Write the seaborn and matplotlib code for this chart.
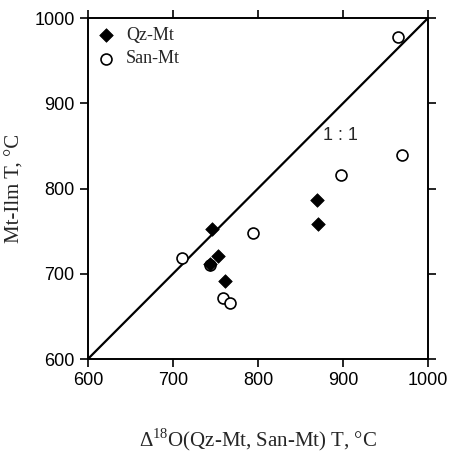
"""Mt-Ilm T contra Delta18O T (Qz-Mt, San-Mt)."""

import matplotlib
matplotlib.use("Agg")
import matplotlib.pyplot as plt
import pandas as pd
import seaborn as sns

# datos
qz_x = [746, 753, 744, 761, 869, 871]
qz_y = [753, 721, 711, 691, 786, 758]
san_x = [711, 744, 794, 759, 767, 898, 969, 965]
san_y = [719, 710, 748, 671, 666, 816, 839, 978]
linea_1a1 = [600, 1000]
ticks = [600, 700, 800, 900, 1000]

qz = pd.DataFrame({"x": qz_x, "y": qz_y})
san = pd.DataFrame({"x": san_x, "y": san_y})

sns.set_style("ticks")
plt.rcParams["font.family"] = ["Liberation Sans", "DejaVu Sans"]
plt.rcParams["mathtext.fontset"] = "custom"
plt.rcParams["mathtext.rm"] = "Liberation Serif"

fig = plt.figure(figsize=(4.53, 4.57), dpi=100)
ax = fig.add_axes([0.194, 0.2144, 0.751, 0.7462])

sns.lineplot(x=linea_1a1, y=linea_1a1, ax=ax, color="black", lw=1.6, zorder=1)
sns.scatterplot(data=san, x="x", y="y", ax=ax, marker="o", s=62,
                facecolor="white", edgecolor="black", linewidth=1.2,
                label="San-Mt", zorder=3)
sns.scatterplot(data=qz, x="x", y="y", ax=ax, marker="D", s=48,
                color="black", edgecolor="black", linewidth=0.5,
                label="Qz-Mt", zorder=4)

ax.text(897, 862, "1 : 1", fontsize=13, ha="center", va="center",
        bbox=dict(facecolor="white", edgecolor="none", pad=1), zorder=2)

ax.set_xlim(600, 1000)
ax.set_ylim(600, 1000)
ax.set_xticks(ticks)
ax.set_yticks(ticks)
ax.tick_params(axis="both", direction="out", length=6, width=1.2,
               labelsize=13, top=True, right=True, colors="black")
for s in ax.spines.values():
    s.set_linewidth(1.4)
    s.set_color("black")

ax.set_xlabel(r"$\Delta^{18}$O(Qz-Mt, San-Mt) T, °C",
              family="Liberation Serif", fontsize=15, labelpad=27)
ax.set_ylabel("Mt-Ilm T, °C", family="Liberation Serif", fontsize=15,
              labelpad=7)

handles, labels = ax.get_legend_handles_labels()
orden = [labels.index("Qz-Mt"), labels.index("San-Mt")]
ax.legend([handles[i] for i in orden], [labels[i] for i in orden],
          loc="upper left", frameon=False,
          prop={"family": "Liberation Serif", "size": 13},
          handlelength=1.0, handletextpad=0.6, borderaxespad=0.3,
          borderpad=0.2, labelspacing=0.35)

fig.savefig("out.png", dpi=100)
